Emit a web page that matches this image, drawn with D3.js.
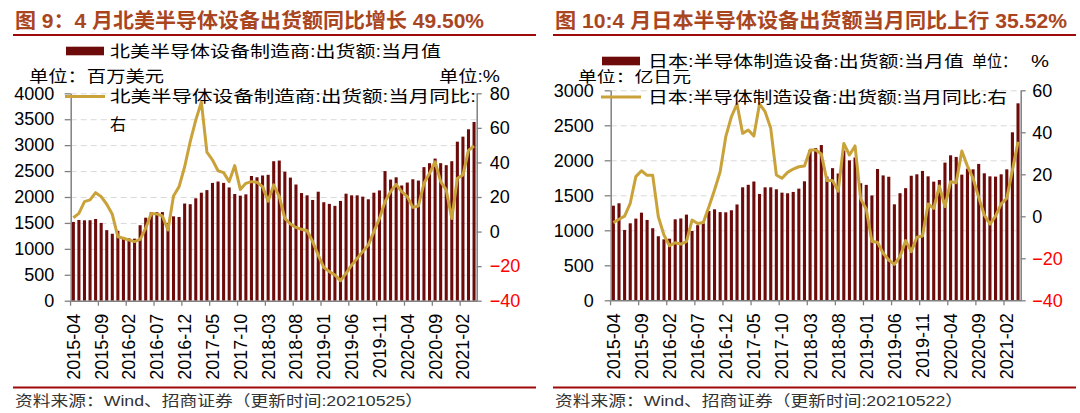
<!DOCTYPE html>
<html><head><meta charset="utf-8">
<script src="https://cdn.jsdelivr.net/npm/d3@7/dist/d3.min.js"></script>
<style>
html,body{margin:0;padding:0;background:#fff;}
svg{display:block;}
</style>
</head><body>
<svg id="chart" width="1080" height="413"></svg>
<script>
// ---------- categories ----------
const months = d3.utcMonth.range(new Date(Date.UTC(2015,3,1)), new Date(Date.UTC(2021,4,1))).map(d3.utcFormat("%Y-%m"));
const tickMonths = months.filter((d,i) => i % 5 === 0);

// ---------- data: North America (million USD, YoY %) ----------
const naShipments = [1519,1557,1550,1552,1576,1500,1361,1291,1348,1203,1203,1196,
  1456,1601,1709,1709,1709,1500,1627,1614,1874,1861,1975,2083,
  2133,2272,2298,2272,2184,2057,2026,2051,2405,2380,2415,2428,
  2690,2703,2488,2374,2241,2076,2032,1943,2102,1899,1867,1829,
  1924,2064,2032,2032,2007,1956,2083,2127,2500,2336,2380,2222,
  2279,2342,2317,2576,2652,2741,2652,2614,2690,3067,3164,3306,
  3447];
const naYoY = [8.0,10.5,17.3,18.3,22.5,20.2,15.8,10.0,-3.0,-3.9,-4.9,-5.8,
  -4.5,1.9,10.5,10.2,9.0,0.9,20.6,26.0,37.5,52.0,64.5,75.0,
  46.0,41.4,35.2,34.1,28.9,38.2,24.4,27.9,28.9,28.5,26.0,17.5,
  27.0,20.2,7.6,4.4,2.4,1.3,0.5,-5.9,-13.6,-20.7,-23.2,-25.1,
  -28.4,-24.2,-19.4,-15.5,-11.6,-7.8,-0.1,7.6,17.3,23.1,27.3,23.1,
  20.2,14.0,14.8,27.9,33.7,40.4,28.9,24.1,7.6,30.8,32.7,47.0,
  49.5];

// ---------- data: Japan (100 million JPY, YoY %) ----------
const jpShipments = [1352,1386,1005,1100,1167,1252,1148,1030,915,871,880,1157,
  1169,1224,990,1073,1100,1276,1300,1260,1257,1286,1369,1614,
  1650,1697,1519,1614,1614,1586,1538,1529,1548,1595,1700,2148,
  2175,2218,1767,1888,1811,2140,2000,2040,1672,1649,1498,1876,
  1784,1765,1371,1530,1602,1779,1800,1848,1771,1695,1719,1967,
  2071,2048,1795,1881,1871,1948,1814,1771,1767,1800,1871,2400,
  2814];
const jpYoY = [-3.0,-1.4,0.1,6.2,18.9,21.7,19.5,19.5,-0.2,-8.9,-14.0,-12.6,
  -13.2,-12.1,-1.8,-3.4,-3.0,4.6,12.5,21.2,37.9,47.4,53.5,39.5,
  41.1,38.2,53.5,49.8,41.9,19.7,18.1,20.9,22.5,23.6,23.9,31.6,
  31.6,29.7,17.0,17.0,12.0,34.7,29.2,33.5,8.3,3.4,-12.0,-12.4,
  -17.6,-20.8,-22.9,-19.2,-11.6,-16.8,-10.0,-9.4,5.9,3.8,14.4,4.6,
  16.5,16.0,31.1,23.9,18.1,9.0,0.6,-3.7,0.1,5.9,8.6,22.0,
  35.52];

// ---------- tick values ----------
const naLeftTicks = [0,500,1000,1500,2000,2500,3000,3500,4000];
const naRightTicks = [-40,-20,0,20,40,60,80];
const jpLeftTicks = [0,500,1000,1500,2000,2500,3000];
const jpRightTicks = [-40,-20,0,20,40,60];

// ---------- text ----------
const naTitle = "图 9：4 月北美半导体设备出货额同比增长 49.50%";
const jpTitle = "图 10:4 月日本半导体设备出货额当月同比上行 35.52%";
const naBarName = "北美半导体设备制造商:出货额:当月值";
const naLineName = "北美半导体设备制造商:出货额:当月同比:";
const naLineName2 = "右";
const jpBarName = "日本:半导体制造设备:出货额:当月值";
const jpLineName = "日本:半导体制造设备:出货额:当月同比:右";
const naUnitL = "单位：百万美元", naUnitR = "单位:%";
const jpUnitL = "单位：亿日元", jpUnitR1 = "单位：", jpUnitR2 = "%";
const naSource = "资料来源：Wind、招商证券（更新时间:20210525）";
const jpSource = "资料来源：Wind、招商证券（更新时间:20210522）";

// ---------- style ----------
const barColor = "#6d0a0a";
const lineColor = "#c9a23a";
const titleColor = "#a9461f";
const ruleColor = "#9e0a0a";
const axisColor = "#808080";
const gridColor = "#d9d9d9";
const numFont = "'Liberation Sans', Arial, sans-serif";
const cjkFont = "'Liberation Sans', 'Noto Sans CJK SC', sans-serif";

const svg = d3.select("#chart");

function txt(g, s, x, y, opt) {
  const t = g.append("text").attr("x", x).attr("y", y).attr("dy", "0.35em")
    .attr("font-family", opt.font || cjkFont).attr("font-size", opt.size || 16)
    .attr("fill", opt.fill || "#000").text(s);
  if (opt.weight) t.attr("font-weight", opt.weight);
  if (opt.len) t.attr("textLength", opt.len).attr("lengthAdjust", "spacingAndGlyphs");
  if (opt.anchor) t.attr("text-anchor", opt.anchor);
  return t;
}

function panel(c) {
  const g = svg.append("g");
  // header
  txt(g, c.title, c.titleX, 20.5, {size: 20.5, weight: "bold", fill: titleColor, len: c.titleLen});
  g.append("line").attr("x1", c.ruleX0).attr("x2", c.ruleX1).attr("y1", 35).attr("y2", 35)
    .attr("stroke", ruleColor).attr("stroke-width", 2.2);
  g.append("line").attr("x1", c.ruleX0).attr("x2", c.ruleX1).attr("y1", 387.5).attr("y2", 387.5)
    .attr("stroke", ruleColor).attr("stroke-width", 2.2);
  txt(g, c.source, c.ruleX0 + 2, 401, {size: 15, fill: "#333", len: c.sourceLen});

  const x = d3.scaleBand().domain(months).range([c.x0, c.x1]).paddingInner(0.45).paddingOuter(0.2);
  const yL = d3.scaleLinear().domain([c.leftTicks[0], c.leftTicks[c.leftTicks.length-1]]).range([c.yb, c.yt]);
  const yR = d3.scaleLinear().domain([c.rightTicks[0], c.rightTicks[c.rightTicks.length-1]]).range([c.yb, c.yt]);

  // grid
  const grid = g.append("g").attr("transform", `translate(${c.x0},0)`)
    .call(d3.axisLeft(yL).tickValues(c.leftTicks.filter(v => v > 0)).tickSize(-(c.x1 - c.x0)).tickFormat(""));
  grid.select(".domain").remove();
  grid.selectAll("line").attr("stroke", gridColor).attr("stroke-width", 1).attr("stroke-dasharray", "6,4");

  // bars
  g.append("g").selectAll("rect").data(c.bars).join("rect")
    .attr("x", (d, i) => x(months[i])).attr("width", x.bandwidth())
    .attr("y", d => yL(d)).attr("height", d => yL(0) - yL(d)).attr("fill", barColor);

  // line
  const ln = d3.line().x((d, i) => x(months[i]) + x.bandwidth() / 2).y(d => yR(d));
  g.append("path").datum(c.line).attr("d", ln).attr("fill", "none")
    .attr("stroke", lineColor).attr("stroke-width", 3).attr("stroke-linejoin", "round");

  // axes
  const styleAxis = a => {
    a.select(".domain").attr("stroke", axisColor).attr("stroke-width", 1.5);
    a.selectAll(".tick line").attr("stroke", axisColor).attr("stroke-width", 1.3);
    a.selectAll(".tick text").attr("font-family", numFont).attr("font-size", 18).attr("fill", "#000");
  };
  const aL = g.append("g").attr("transform", `translate(${c.x0},0)`)
    .call(d3.axisLeft(yL).tickValues(c.leftTicks).tickSize(6).tickSizeOuter(0).tickPadding(c.lPad).tickFormat(d3.format("d")));
  styleAxis(aL);
  const aR = g.append("g").attr("transform", `translate(${c.x1},0)`)
    .call(d3.axisRight(yR).tickValues(c.rightTicks).tickSize(5).tickSizeOuter(0).tickPadding(c.rPad).tickFormat(d3.format("d")));
  styleAxis(aR);
  aR.selectAll(".tick text").attr("fill", d => d < 0 ? "#ff0000" : "#000");
  const aB = g.append("g").attr("transform", `translate(0,${c.yb})`)
    .call(d3.axisBottom(x).tickValues(tickMonths).tickSize(5).tickSizeOuter(0));
  styleAxis(aB);
  aB.selectAll(".tick line").attr("transform", `translate(${-x.step() / 2},0)`);
  aB.selectAll(".tick text").attr("transform", "rotate(-90)").attr("text-anchor", "end")
    .attr("x", -13).attr("y", 0).attr("dy", "0.36em");

  // legends and units
  const lg = g.append("g");
  lg.append("rect").attr("x", c.lgX).attr("y", c.lg1Y - 4.3).attr("width", 38).attr("height", 8.6).attr("fill", barColor);
  txt(lg, c.barName, c.lgTX, c.lg1Y, {len: c.barLen});
  lg.append("line").attr("x1", c.lgX - 1).attr("x2", c.lgX + 39).attr("y1", c.lg2Y).attr("y2", c.lg2Y)
    .attr("stroke", lineColor).attr("stroke-width", 3);
  txt(lg, c.lineName, c.lgTX, c.lg2Y, {len: c.lineLen});
  if (c.lineName2) txt(lg, c.lineName2, c.lgTX, c.lg2Y + 27.5, {});
  txt(lg, c.unitL, c.unitLX, c.unitLY, {len: c.unitLLen, size: c.unitSize || 16});
  c.unitsR.forEach(u => txt(lg, u.s, u.x, u.y, {len: u.len}));
}

panel({
  title: naTitle, titleX: 15, titleLen: 469,
  ruleX0: 13, ruleX1: 536, source: naSource, sourceLen: 408,
  x0: 70.7, x1: 476.7, yt: 93.3, yb: 300.7,
  leftTicks: naLeftTicks, rightTicks: naRightTicks, lPad: 10.5, rPad: 8,
  bars: naShipments, line: naYoY,
  lgX: 66, lgTX: 110, lg1Y: 51, lg2Y: 96.5,
  barName: naBarName, barLen: 331, lineName: naLineName, lineLen: 366, lineName2: naLineName2,
  unitL: naUnitL, unitLX: 29, unitLY: 76, unitLLen: 135,
  unitsR: [{s: naUnitR, x: 439, y: 76, len: 61}]
});

panel({
  title: jpTitle, titleX: 555, titleLen: 512,
  ruleX0: 553, ruleX1: 1076, source: jpSource, sourceLen: 408,
  x0: 610.7, x1: 1020.7, yt: 90.3, yb: 300.3,
  leftTicks: jpLeftTicks, rightTicks: jpRightTicks, lPad: 11, rPad: 6.5,
  bars: jpShipments, line: jpYoY,
  lgX: 602, lgTX: 648, lg1Y: 61, lg2Y: 97,
  barName: jpBarName, barLen: 316, lineName: jpLineName, lineLen: 359,
  unitL: jpUnitL, unitLX: 578, unitLY: 76.5, unitLLen: 113, unitSize: 15,
  unitsR: [{s: jpUnitR1, x: 972, y: 61, len: 45}, {s: jpUnitR2, x: 1031, y: 61, len: 18}]
});
</script>
</body></html>
